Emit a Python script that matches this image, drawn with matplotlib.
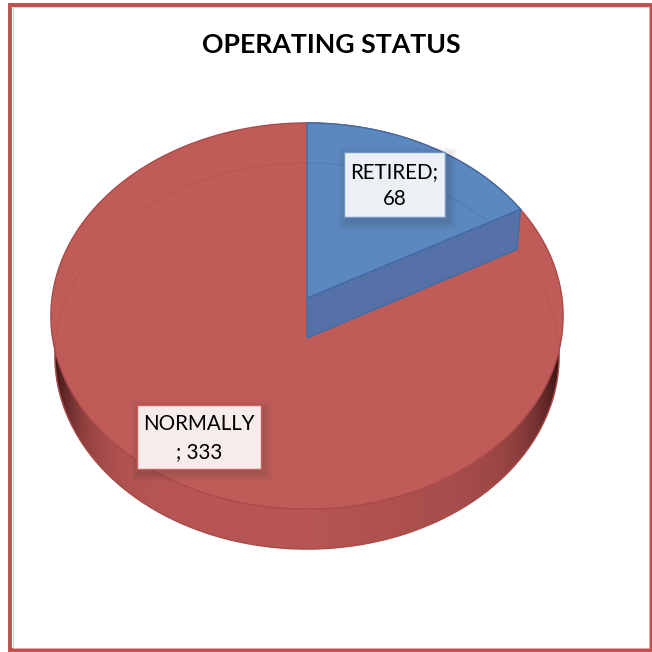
import numpy as np
from matplotlib import pyplot as plt
from matplotlib.patches import Polygon, Rectangle

title = 'OPERATING STATUS'
labels = ['RETIRED', 'NORMALLY']
values = [68, 333]
label_text = ['RETIRED;\n68', 'NORMALLY\n; 333']

plt.rcParams['font.family'] = ['Lato', 'DejaVu Sans']

fig = plt.figure(figsize=(6.52, 6.52), dpi=100)
ax = fig.add_axes([0, 0, 1, 1])
ax.axis('off')

# pie in perspective, angle measured clockwise from the top
xc = 307
k = 0.0933

def project(theta, y0=298, a=255, b=191.4):
    u = np.sin(theta)
    v = np.cos(theta)
    s = 1 / (1 + k * v)
    return xc + a * u * s, y0 - b * v * s

def rim(t0, t1, n=200, **kw):
    return project(np.linspace(t0, t1, n), **kw)

bottom = dict(y0=338, a=251, b=191.4)
total = sum(values)
split = 2 * np.pi * values[0] / total

# side wall, dark towards both ends
xa, ya = rim(np.pi / 2 - 0.25, 3 * np.pi / 2 + 0.25)
xb, yb = rim(3 * np.pi / 2 + 0.25, np.pi / 2 - 0.25, **bottom)
wall = Polygon(np.c_[np.r_[xa, xb], np.r_[ya, yb]], fc='none', ec='none')
ax.add_patch(wall)
xs_grad = np.arange(40, 575)
u = np.abs(xs_grad - xc) / 256
f = 1 - 0.75 * u ** 9
f = f * np.where(xs_grad > xc, 1 - 0.15 * u, 1.0)
grad = np.zeros((1, len(xs_grad), 3))
grad[0, :, 0] = 183 / 255 * f
grad[0, :, 1] = 86 / 255 * f ** 1.2
grad[0, :, 2] = 84 / 255 * f ** 1.2
im = ax.imshow(grad, extent=(40, 575, 560, 300), aspect='auto', zorder=0.5)
im.set_clip_path(wall)
ax.set_xlim(0, 652)
ax.set_ylim(652, 0)

xb, yb = rim(np.pi / 2 - 0.1, 3 * np.pi / 2 + 0.1, **bottom)
ax.plot(xb, yb, color='#a84a48', lw=1.0, zorder=1)

# top face
xr, yr = rim(split, 2 * np.pi)
ax.add_patch(Polygon(np.c_[np.r_[xc, xr], np.r_[298, yr]], fc='#c05c58', ec='none', zorder=1.5))
xt, yt = rim(0, 2 * np.pi, 400)
ax.plot(xt, yt, color='#a94a48', lw=1.0, zorder=1.6)

# far edge of the base showing through the top
xi, yi = rim(-np.pi * 0.62, 0, 200, **bottom)
ax.plot(xi, yi, color='#a94a48', lw=0.8, alpha=0.35, zorder=1.7)
xi, yi = rim(split, np.pi * 0.62, 100, **bottom)
ax.plot(xi, yi, color='#a94a48', lw=0.8, alpha=0.35, zorder=1.7)

# retired slice, cut face then top
xs, ys = project(split)
xs2, ys2 = project(split, **bottom)
ax.add_patch(Polygon([(xc, 298), (xc, 338), (xs2, ys2), (xs, ys)], fc='#5671a8', ec='#3f6ca6', lw=1.0, zorder=2))
xr, yr = rim(0, split)
ax.add_patch(Polygon(np.c_[np.r_[xc, xr], np.r_[298, yr]], fc='#5b88bf', ec='#3f6ca6', lw=1.0, zorder=2.1))
xi, yi = rim(0, split, **bottom)
ax.plot(xi, yi, color='#3f6ca6', lw=0.8, alpha=0.4, zorder=2.2)

# data label boxes with a soft shadow
boxes = [(344, 152, 101, 65, '#6f97c8', '#ebf0f5'), (137, 405, 124, 64, '#c9605d', '#f6ecec')]
for (bx, by, bw, bh, ec, fc), txt in zip(boxes, label_text):
    for g in range(9, 0, -1):
        ax.add_patch(Rectangle((bx - g + 3, by - g + 4), bw + 2 * g, bh + 2 * g, fc='#333333', ec='none',
                               alpha=0.018, zorder=3))
    ax.add_patch(Rectangle((bx, by), bw, bh, fc=fc, ec=ec, lw=1.0, zorder=4))
    ax.text(bx + bw / 2, by + bh / 2 + 1, txt, ha='center', va='center', fontsize=14.8,
            color='black', linespacing=1.45, zorder=5)

ax.text(331, 45, title, ha='center', va='center', fontsize=19.2, fontweight='bold', color='black')

# chart frame
ax.add_patch(Rectangle((9.5, 4.7), 641, 645.5, fc='none', ec='#c0504d', lw=2.8, clip_on=False, zorder=6))
ax.add_patch(Rectangle((12.5, 6.8), 636, 641.5, fc='none', ec='#e8b9b8', lw=0.6, zorder=6))

fig.savefig('out.png', dpi=100)
